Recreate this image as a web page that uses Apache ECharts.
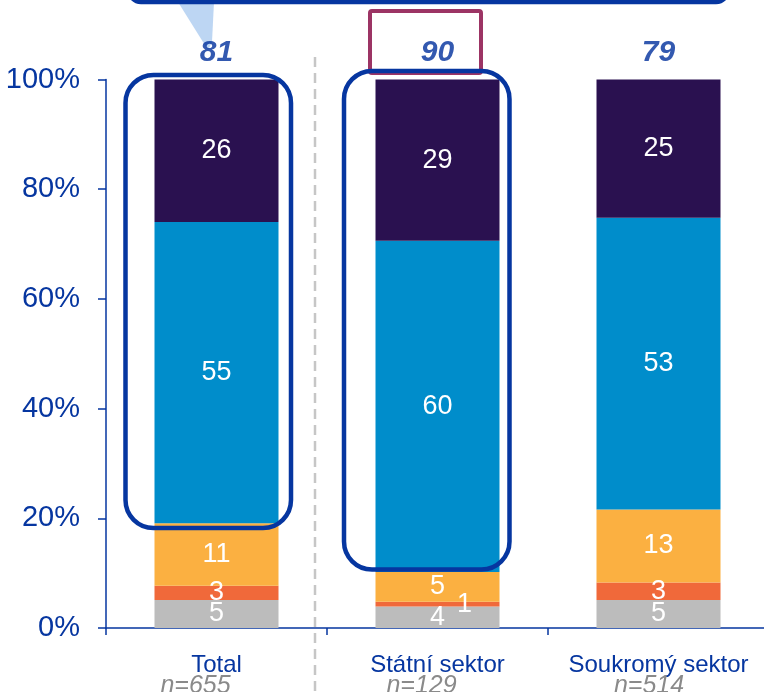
<!DOCTYPE html>
<html>
<head>
<meta charset="utf-8">
<script src="https://cdn.jsdelivr.net/npm/echarts@6/dist/echarts.min.js"></script>
<style>
  html, body { margin: 0; padding: 0; background: #ffffff; }
  #chart { width: 764px; height: 692px; }
</style>
</head>
<body>
<div id="chart"></div>
<script>
const categories = ['Total', 'Státní sektor', 'Soukromý sektor'];
const sampleSizes = ['n=655', 'n=129', 'n=514'];
const greyValues = [5.1, 3.9, 5.1];
const redValues = [2.6, 0.9, 3.2];
const yellowValues = [11.4, 5.4, 13.3];
const blueValues = [54.9, 60.4, 53.2];
const purpleValues = [26.0, 29.4, 25.2];
const topTotals = [81, 90, 79];
const yTicks = [0, 20, 40, 60, 80, 100];

const FONT = 'Liberation Sans, Arial, sans-serif';
const NAVY = '#0636a0';

const chart = echarts.init(document.getElementById('chart'));

function segLabel() {
  return {
    show: true,
    position: 'inside',
    color: '#ffffff',
    fontFamily: FONT,
    fontSize: 27,
    formatter: p => Math.round(p.value)
  };
}

function barSeries(name, values, color, overrides) {
  return {
    name: name,
    type: 'bar',
    stack: 'all',
    barWidth: 124,
    data: values.map((v, i) => {
      const item = { value: v };
      if (overrides && overrides[i]) item.label = overrides[i];
      return item;
    }),
    itemStyle: { color: color },
    label: segLabel(),
    z: 2
  };
}

const nStyle = (pr) => ({ fontSize: 25, color: '#8a8a8a', fontStyle: 'italic', lineHeight: 24, fontFamily: FONT, padding: [0, pr, 0, 0] });

const option = {
  animation: false,
  backgroundColor: '#ffffff',
  grid: { left: 106, top: 79.5, width: 663, height: 548.5, containLabel: false, outerBoundsMode: 'none' },
  xAxis: {
    type: 'category',
    data: categories,
    axisLine: { lineStyle: { color: NAVY, width: 1.5 } },
    axisTick: { show: true, length: 7, lineStyle: { color: NAVY, width: 1.5 } },
    axisLabel: {
      interval: 0,
      margin: 28,
      fontFamily: FONT,
      formatter: (v, i) => '{c|' + v + '}\n{n' + i + '|' + sampleSizes[i] + '}',
      rich: {
        c: { fontSize: 24, color: NAVY, lineHeight: 18, fontFamily: FONT },
        n0: nStyle(42),
        n1: nStyle(32),
        n2: nStyle(19)
      }
    },
    splitLine: { show: false }
  },
  yAxis: {
    type: 'value',
    min: yTicks[0],
    max: yTicks[yTicks.length - 1],
    interval: yTicks[1] - yTicks[0],
    axisLine: { show: true, lineStyle: { color: NAVY, width: 1.5 } },
    axisTick: { show: true, length: 8, lineStyle: { color: NAVY, width: 1.5 } },
    axisLabel: { margin: 26, color: NAVY, fontSize: 29, fontFamily: FONT, formatter: '{value}%' },
    splitLine: { show: false }
  },
  series: [
    barSeries('grey', greyValues, '#bcbcbc'),
    barSeries('red', redValues, '#f0693a', [null, { offset: [27, 0] }, null]),
    barSeries('yellow', yellowValues, '#fbb041'),
    barSeries('blue', blueValues, '#008dcb'),
    barSeries('purple', purpleValues, '#2a1150'),
    {
      name: 'totals',
      type: 'scatter',
      data: topTotals.map(() => 100),
      symbolSize: 1,
      itemStyle: { color: 'rgba(0,0,0,0)' },
      clip: false,
      z: 5,
      label: {
        show: true,
        position: 'inside',
        offset: [0, -27],
        formatter: p => topTotals[p.dataIndex],
        color: '#00309c',
        fontFamily: FONT,
        fontSize: 30,
        fontWeight: 'bold',
        fontStyle: 'italic'
      }
    }
  ],
  graphic: [
    {
      type: 'line',
      z: 1,
      shape: { x1: 315, y1: 57, x2: 315, y2: 692 },
      style: { stroke: '#c6c6c6', lineWidth: 2.5, lineDash: [10, 6] }
    },
    {
      type: 'polygon',
      z: 1,
      shape: { points: [[178, 2], [214, 2], [212, 42], [208, 50]] },
      style: { fill: '#bdd6f3' }
    },
    {
      type: 'rect',
      z: 50,
      shape: { x: 129, y: -40, width: 599, height: 42, r: 12 },
      style: { fill: '#ffffff', stroke: '#0636a0', lineWidth: 4.5 }
    },
    {
      type: 'rect',
      z: 50,
      shape: { x: 370, y: 11, width: 111, height: 62, r: 2 },
      style: { fill: 'none', stroke: '#9c3464', lineWidth: 4 }
    },
    {
      type: 'rect',
      z: 60,
      shape: { x: 125.5, y: 75, width: 165.5, height: 453, r: 28 },
      style: { fill: 'none', stroke: '#0636a0', lineWidth: 4.5 }
    },
    {
      type: 'rect',
      z: 60,
      shape: { x: 344, y: 71, width: 165.5, height: 498.5, r: 28 },
      style: { fill: 'none', stroke: '#0636a0', lineWidth: 4.5 }
    }
  ]
};

chart.setOption(option);
</script>
</body>
</html>
